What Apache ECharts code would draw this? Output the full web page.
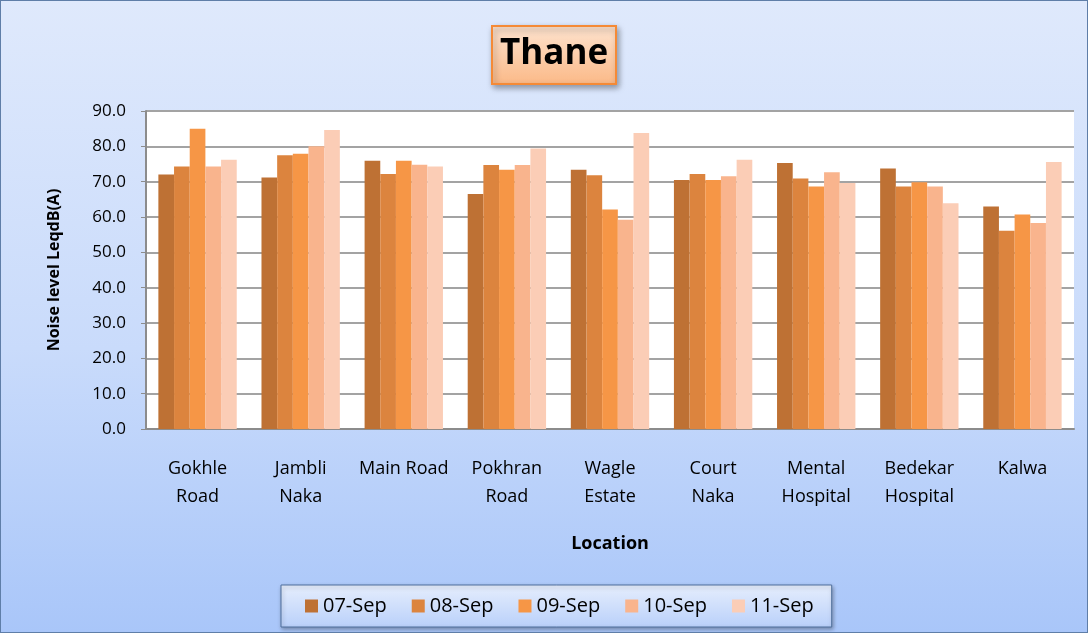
<!DOCTYPE html>
<html>
<head>
<meta charset="utf-8">
<script src="https://cdn.jsdelivr.net/npm/echarts@6/dist/echarts.min.js"></script>
<style>
  html, body { margin: 0; padding: 0; }
  #chart {
    width: 1086px;
    height: 631px;
    border: 1px solid #5f7ea8;
    background: linear-gradient(180deg, #dfe9fc 0%, #c9dbfb 55%, #a9c6f9 100%);
  }
</style>
</head>
<body>
<div id="chart"></div>
<script>
const locations = ["Gokhle\nRoad", "Jambli\nNaka", "Main Road", "Pokhran\nRoad", "Wagle\nEstate", "Court\nNaka", "Mental\nHospital", "Bedekar\nHospital", "Kalwa"];
const seriesNames = ["07-Sep", "08-Sep", "09-Sep", "10-Sep", "11-Sep"];
const sep07 = [72.0, 71.2, 75.9, 66.5, 73.4, 70.5, 75.3, 73.7, 63.0];
const sep08 = [74.3, 77.5, 72.2, 74.7, 71.8, 72.2, 70.9, 68.6, 56.1];
const sep09 = [85.0, 77.9, 75.9, 73.4, 62.1, 70.5, 68.6, 69.8, 60.7];
const sep10 = [74.3, 80.0, 74.8, 74.7, 59.2, 71.5, 72.7, 68.6, 58.3];
const sep11 = [76.2, 84.6, 74.3, 79.4, 83.8, 76.2, 69.6, 63.9, 75.6];
const yTicks = [0, 10, 20, 30, 40, 50, 60, 70, 80, 90];

const values = [sep07, sep08, sep09, sep10, sep11];
const palette = ["#be7134", "#dc843e", "#f69646", "#f9b48d", "#fbcdb6"];
const font = "'Open Sans', 'Liberation Sans', sans-serif";

const chart = echarts.init(document.getElementById("chart"));

chart.setOption({
  backgroundColor: "transparent",
  color: palette,
  textStyle: { fontFamily: font, color: "#000" },
  title: {
    text: "Thane",
    left: 491,
    top: 25,
    padding: [11, 8, 12, 8],
    backgroundColor: new echarts.graphic.LinearGradient(0, 0, 0, 1, [
      { offset: 0, color: "#fde3cf" },
      { offset: 1, color: "#fbb987" }
    ]),
    borderColor: "#f58a36",
    borderWidth: 2,
    shadowColor: "rgba(0,0,0,0.35)",
    shadowBlur: 6,
    shadowOffsetX: 2,
    shadowOffsetY: 3,
    textStyle: { fontFamily: font, fontSize: 35, fontWeight: "bold", color: "#000" }
  },
  legend: {
    bottom: 5,
    left: 280,
    itemWidth: 13,
    itemHeight: 13,
    itemGap: 25,
    padding: [11, 18, 11, 24],
    icon: "rect",
    backgroundColor: new echarts.graphic.LinearGradient(0, 0, 0, 1, [
      { offset: 0, color: "#e6eefd" },
      { offset: 1, color: "#b9d0fa" }
    ]),
    borderColor: "#4f6f9c",
    borderWidth: 1,
    shadowColor: "rgba(0,0,0,0.3)",
    shadowBlur: 4,
    shadowOffsetX: 1,
    shadowOffsetY: 2,
    textStyle: { fontFamily: font, fontSize: 20, color: "#000" },
    data: seriesNames
  },
  grid: { left: 145, right: 13, top: 110, bottom: 203, backgroundColor: "#fff", show: true, borderWidth: 0 },
  xAxis: {
    type: "category",
    data: locations,
    name: "Location",
    nameLocation: "middle",
    nameGap: 106,
    nameTextStyle: { fontFamily: font, fontSize: 18, fontWeight: "bold", color: "#000" },
    axisLine: { lineStyle: { color: "#8c8c8c", width: 2 } },
    axisTick: { show: false },
    axisLabel: { fontFamily: font, fontSize: 18, color: "#000", margin: 26, lineHeight: 28, interval: 0 }
  },
  yAxis: {
    type: "value",
    min: 0,
    max: 90,
    interval: 10,
    name: "Noise level LeqdB(A)",
    nameLocation: "middle",
    nameGap: 84,
    nameTextStyle: { fontFamily: font, fontSize: 16, fontWeight: "bold", color: "#000" },
    axisLine: { show: true, lineStyle: { color: "#8c8c8c", width: 2 } },
    axisTick: { show: true, length: 5, lineStyle: { color: "#8c8c8c" } },
    axisLabel: {
      fontFamily: font, fontSize: 17, color: "#000", margin: 20,
      formatter: (v) => yTicks.includes(v) ? v.toFixed(1) : ""
    },
    splitLine: { lineStyle: { color: "#a3a3a3", width: 2 } }
  },
  series: seriesNames.map((name, i) => ({
    name: name,
    type: "bar",
    data: values[i],
    barGap: "0%",
    barCategoryGap: "24%",
    itemStyle: { color: palette[i] }
  }))
});
</script>
</body>
</html>
